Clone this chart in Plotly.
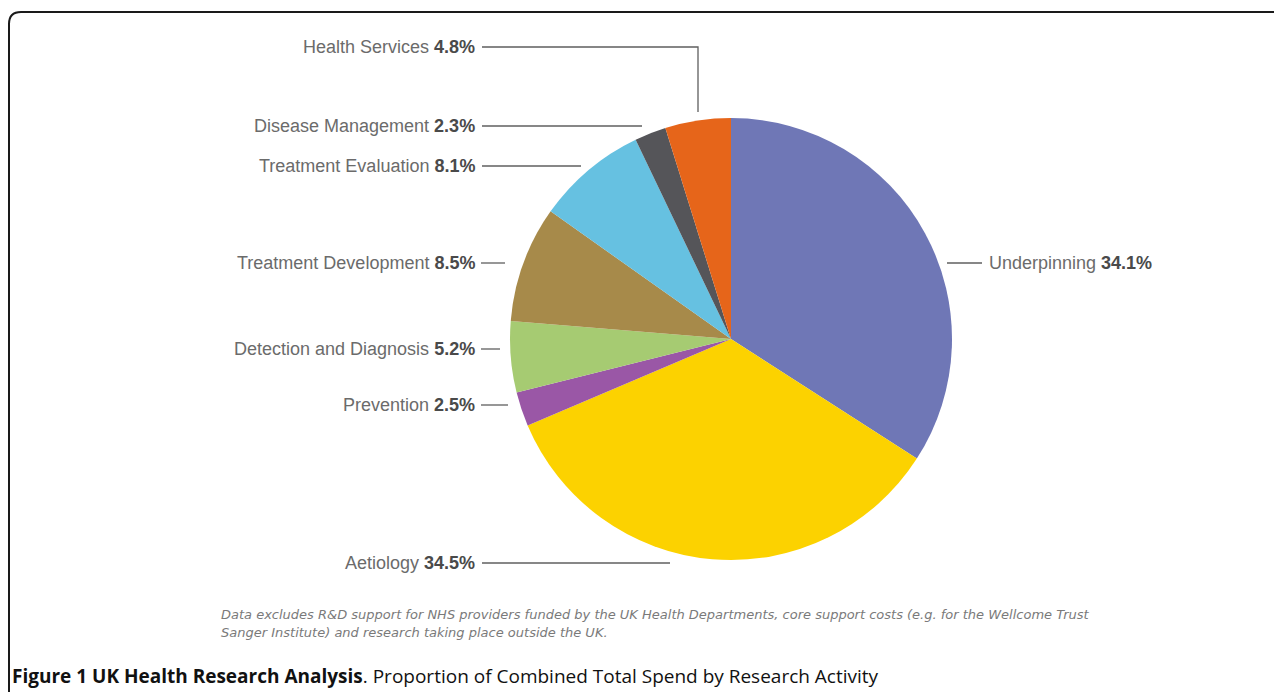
import plotly.graph_objects as go

# ---- data ----
categories = ["Underpinning", "Aetiology", "Prevention", "Detection and Diagnosis",
              "Treatment Development", "Treatment Evaluation", "Disease Management",
              "Health Services"]
shares = [34.1, 34.5, 2.5, 5.2, 8.5, 8.1, 2.3, 4.8]
colors = ["#6F77B6", "#FCD200", "#9A57A6", "#A6CB72", "#A78A4A", "#66C1E1",
          "#555559", "#E6651A"]

# ---- layout (screen pixel positions; page body has an 8px margin) ----
OFF = 8
SW, SH = 1282, 692
W, H = SW - OFF, SH - OFF
cx, cy, r = 731, 339, 221
label_layout = {
    "Health Services": dict(y=47, side="left", line=[(482, 47), (698, 47), (698, 112)]),
    "Disease Management": dict(y=126, side="left", line=[(482, 126), (642, 126)]),
    "Treatment Evaluation": dict(y=166, side="left", line=[(482, 166), (581, 166)]),
    "Treatment Development": dict(y=263, side="left", line=[(481, 263), (505, 263)]),
    "Detection and Diagnosis": dict(y=349, side="left", line=[(481, 349), (500, 349)]),
    "Prevention": dict(y=405, side="left", line=[(481, 405), (508, 405)]),
    "Aetiology": dict(y=563, side="left", line=[(482, 563), (670, 563)]),
    "Underpinning": dict(y=263, side="right", line=[(947, 263), (982, 263)]),
}

fig = go.Figure()
fig.add_trace(go.Pie(
    labels=categories, values=shares, sort=False, direction="clockwise",
    rotation=0, marker=dict(colors=colors, line=dict(width=0)),
    textinfo="none", hoverinfo="label+percent", showlegend=False,
    domain=dict(x=[(cx - r - OFF) / W, (cx + r - OFF) / W],
                y=[(SH - cy - r) / H, (SH - cy + r) / H]),
))

shapes = []
annotations = []
FONT = "Liberation Sans, Arial, sans-serif"
for name, val in zip(categories, shares):
    lay = label_layout[name]
    pts = lay["line"]
    path = "M " + " L ".join(f"{x},{y}" for x, y in pts)
    shapes.append(dict(type="path", path=path, xref="x", yref="y",
                       line=dict(color="#5f5f5f", width=1.3)))
    txt = f"{name} <span style='color:#4a4a4a'><b>{val:.1f}%</b></span>"
    if lay["side"] == "left":
        annotations.append(dict(x=477, y=lay["y"], xref="x", yref="y", text=txt,
                                showarrow=False, xanchor="right", yanchor="middle",
                                font=dict(family=FONT, size=18, color="#6b6b6b")))
    else:
        annotations.append(dict(x=987, y=lay["y"], xref="x", yref="y", text=txt,
                                showarrow=False, xanchor="left", yanchor="middle",
                                font=dict(family=FONT, size=18, color="#6b6b6b")))

# frame with rounded top-left corner
shapes.append(dict(type="path", path=f"M 9,{SH + 5} L 9,24 Q 9,12 21,12 L {SW + 5},12",
                   xref="x", yref="y", line=dict(color="#1a1a1a", width=2)))

note1 = ("Data excludes R&D support for NHS providers funded by the UK Health Departments, "
         "core support costs (e.g. for the Wellcome Trust")
note2 = "Sanger Institute) and research taking place outside the UK."
for yy, t in [(614, note1), (632, note2)]:
    annotations.append(dict(x=219, y=yy, xref="x", yref="y", text=f"<i>{t}</i>",
                            showarrow=False, xanchor="left", yanchor="middle",
                            font=dict(family="DejaVu Sans, sans-serif", size=13,
                                      color="#7a7a7a")))

annotations.append(dict(
    x=10, y=676, xref="x", yref="y",
    text="<b>Figure 1 UK Health Research Analysis</b>. Proportion of Combined Total Spend by Research Activity",
    showarrow=False, xanchor="left", yanchor="middle",
    font=dict(family="Open Sans, sans-serif", size=19, color="#111111")))

fig.update_layout(
    width=W, height=H, margin=dict(l=0, r=0, t=0, b=0),
    paper_bgcolor="white", plot_bgcolor="rgba(0,0,0,0)",
    xaxis=dict(range=[OFF, SW], visible=False, domain=[0, 1], fixedrange=True),
    yaxis=dict(range=[SH, OFF], visible=False, domain=[0, 1], fixedrange=True),
    shapes=shapes, annotations=annotations,
)

fig.write_html("out.html")
